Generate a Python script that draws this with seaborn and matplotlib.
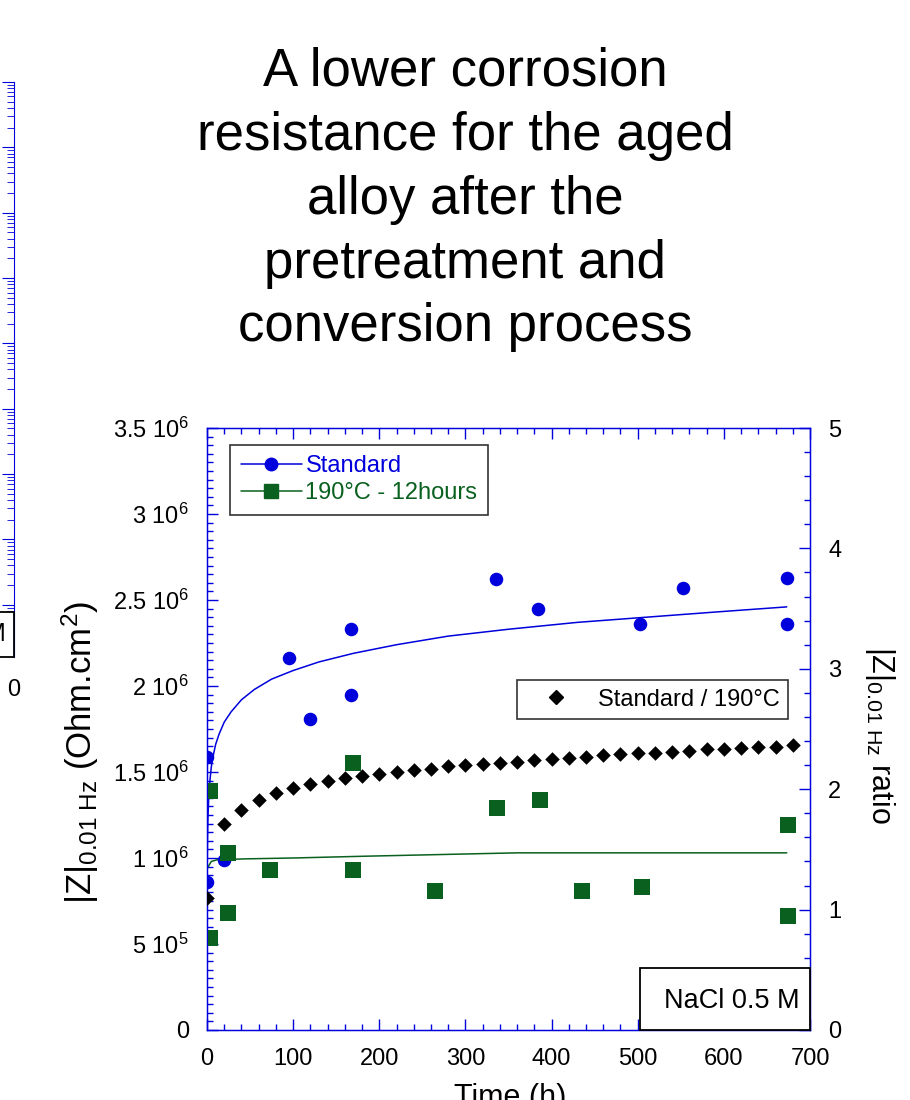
import matplotlib
matplotlib.use("Agg")
import numpy as np
import pandas as pd
import matplotlib.pyplot as plt
import seaborn as sns
from matplotlib.lines import Line2D
from matplotlib.patches import Rectangle
from matplotlib.ticker import MultipleLocator, FixedLocator, FixedFormatter, LogLocator, NullFormatter

# |Z| at 0.01 Hz (Ohm.cm2) vs immersion time (h) - standard alloy
std_time = [0, 0, 20, 95, 120, 167, 167, 335, 384, 503, 552, 673, 673]
std_z = [1.59e6, 0.86e6, 0.99e6, 2.16e6, 1.81e6, 2.33e6, 1.95e6,
         2.62e6, 2.45e6, 2.36e6, 2.57e6, 2.63e6, 2.36e6]

# aged alloy (190 C - 12 hours)
aged_time = [3, 3, 24, 24, 73, 169, 169, 265, 337, 387, 435, 505, 674, 674]
aged_z = [1.39e6, 0.535e6, 1.03e6, 0.68e6, 0.93e6, 1.55e6, 0.93e6,
          0.81e6, 1.29e6, 1.34e6, 0.81e6, 0.83e6, 1.19e6, 0.66e6]

# trend lines
std_fit_time = [0.3, 0.6, 1, 2, 3, 5, 7, 10, 14, 20, 28, 40, 55, 75, 100, 130, 170,
                220, 280, 350, 430, 510, 590, 673]
std_fit_z = [0.99e6, 1.12e6, 1.22e6, 1.35e6, 1.43e6, 1.53e6, 1.59e6, 1.66e6, 1.72e6,
             1.79e6, 1.85e6, 1.92e6, 1.98e6, 2.04e6, 2.09e6, 2.14e6, 2.19e6, 2.24e6,
             2.29e6, 2.33e6, 2.37e6, 2.40e6, 2.43e6, 2.46e6]
aged_fit_time = [0.3, 5, 12, 45, 100, 180, 360, 673]
aged_fit_z = [0.94e6, 0.98e6, 0.99e6, 0.995e6, 1.0e6, 1.01e6, 1.03e6, 1.03e6]

# ratio standard / 190 C (right axis)
ratio_time = [0, 20, 40, 60, 80, 100, 120, 140, 160, 180, 200, 220, 240, 260, 280,
              300, 320, 340, 360, 380, 400, 420, 440, 460, 480, 500, 520, 540,
              560, 580, 600, 620, 640, 660, 680]
ratio = [1.10, 1.71, 1.83, 1.91, 1.97, 2.01, 2.04, 2.07, 2.09, 2.11, 2.13, 2.14,
         2.16, 2.17, 2.19, 2.20, 2.21, 2.22, 2.23, 2.24, 2.25, 2.26, 2.27, 2.28,
         2.29, 2.30, 2.30, 2.31, 2.32, 2.33, 2.33, 2.34, 2.35, 2.35, 2.37]

yticks = [0, 0.5e6, 1e6, 1.5e6, 2e6, 2.5e6, 3e6, 3.5e6]
ytick_labels = ["0", "5 10$^{5}$", "1 10$^{6}$", "1.5 10$^{6}$", "2 10$^{6}$",
                "2.5 10$^{6}$", "3 10$^{6}$", "3.5 10$^{6}$"]

title = "A lower corrosion\nresistance for the aged\nalloy after the\npretreatment and\nconversion process"

BLUE = "#0000DD"
GREEN = "#0A601E"
W, H = 910, 1100

sns.set_style("ticks")
plt.rcParams["font.family"] = ["Liberation Sans", "DejaVu Sans"]
plt.rcParams["mathtext.fontset"] = "custom"
plt.rcParams["mathtext.rm"] = "Liberation Sans"
plt.rcParams["mathtext.it"] = "Liberation Sans"
plt.rcParams["mathtext.default"] = "regular"
plt.rcParams["text.color"] = "black"
plt.rcParams["xtick.labelcolor"] = "black"
plt.rcParams["ytick.labelcolor"] = "black"

std_df = pd.DataFrame({"time": std_time, "z": std_z})
aged_df = pd.DataFrame({"time": aged_time, "z": aged_z})
std_fit = pd.DataFrame({"time": std_fit_time, "z": std_fit_z})
aged_fit = pd.DataFrame({"time": aged_fit_time, "z": aged_fit_z})
ratio_df = pd.DataFrame({"time": ratio_time, "ratio": ratio})

fig = plt.figure(figsize=(W / 100, H / 100), dpi=100)

# title of the slide
fig.text(465 / W, 1 - 47 / H, title, ha="center", va="top", fontsize=38,
         linespacing=1.355, color="black")

# cut-off chart from the previous panel on the left edge
axl = fig.add_axes([(14 - 200) / W, (H - 657) / H, 200 / W, (657 - 82) / H])
axl.set_yscale("log")
axl.set_ylim(10 ** -4.8, 1e4)
axl.patch.set_visible(False)
for s in ["left", "top", "bottom"]:
    axl.spines[s].set_visible(False)
axl.spines["right"].set_color(BLUE)
axl.yaxis.tick_right()
axl.yaxis.set_major_locator(LogLocator(base=10, numticks=30))
axl.yaxis.set_minor_locator(LogLocator(base=10, subs=np.arange(2, 10), numticks=30))
axl.yaxis.set_major_formatter(NullFormatter())
axl.yaxis.set_minor_formatter(NullFormatter())
axl.set_xticks([])
axl.tick_params(axis="y", which="both", direction="in", color=BLUE, labelright=False)
axl.tick_params(axis="y", which="major", length=9)
axl.tick_params(axis="y", which="minor", length=5)
fig.add_artist(Rectangle((-20 / W, 1 - 657 / H), 34 / W, 45 / H, transform=fig.transFigure,
                         facecolor="white", edgecolor="black", lw=1.3))
fig.text(6 / W, 1 - 634 / H, "M", ha="right", va="center", fontsize=18)
fig.text(14 / W, 1 - 690 / H, "0", ha="center", va="center", fontsize=17)

# main chart
ax = fig.add_axes([207 / W, 70 / H, 603 / W, 602 / H])
sns.lineplot(data=std_fit, x="time", y="z", ax=ax, color=BLUE, lw=1.1, estimator=None, sort=False)
sns.lineplot(data=aged_fit, x="time", y="z", ax=ax, color=GREEN, lw=1.1, estimator=None, sort=False)
sns.scatterplot(data=std_df, x="time", y="z", ax=ax, color=BLUE, marker="o", s=95,
                linewidth=0, zorder=3)
sns.scatterplot(data=aged_df, x="time", y="z", ax=ax, color=GREEN, marker="s", s=120,
                linewidth=0, zorder=3)

ax.set_xlim(0, 700)
ax.set_ylim(0, 3.5e6)
ax.xaxis.set_major_locator(MultipleLocator(100))
ax.xaxis.set_minor_locator(MultipleLocator(20))
ax.yaxis.set_major_locator(FixedLocator(yticks))
ax.yaxis.set_major_formatter(FixedFormatter(ytick_labels))
ax.yaxis.set_minor_locator(MultipleLocator(0.05e6))
ax.tick_params(axis="both", which="both", direction="in", color=BLUE, top=True, right=False,
               labelsize=17, width=1, labelcolor="black")
ax.tick_params(axis="both", which="major", length=8)
ax.tick_params(axis="both", which="minor", length=4.5)
ax.tick_params(axis="x", which="major", pad=13)
ax.tick_params(axis="y", which="major", pad=13)
for s in ax.spines.values():
    s.set_color(BLUE)
    s.set_linewidth(1)
ax.set_xlabel("")
ax.set_ylabel("")

handles = [
    Line2D([], [], color=BLUE, lw=1.1, marker="o", markersize=9),
    Line2D([], [], color=GREEN, lw=1.1, marker="s", markersize=10),
]
leg = ax.legend(handles, ["Standard", "190°C - 12hours"], loc="upper left",
                bbox_to_anchor=(0.038, 0.972), borderaxespad=0, frameon=True,
                fancybox=False, edgecolor="black", handlelength=2.6, handletextpad=0.15,
                labelspacing=0.2, borderpad=0.45, prop={"size": 17})
leg.get_frame().set_linewidth(1.2)
for txt, c in zip(leg.get_texts(), [BLUE, GREEN]):
    txt.set_color(c)

# ratio on the right axis
ax2 = ax.twinx()
sns.scatterplot(data=ratio_df, x="time", y="ratio", ax=ax2, color="black", marker="D", s=55,
                linewidth=0, zorder=4)
ax2.set_ylim(0, 5)
ax2.set_xlim(0, 700)
ax2.yaxis.set_major_locator(MultipleLocator(1))
ax2.yaxis.set_minor_locator(MultipleLocator(0.2))
ax2.tick_params(axis="y", which="both", direction="in", color=BLUE, labelsize=17, pad=13,
                width=1, labelcolor="black")
ax2.tick_params(axis="y", which="major", length=8)
ax2.tick_params(axis="y", which="minor", length=4.5)
for s in ax2.spines.values():
    s.set_color(BLUE)
ax2.set_ylabel("")
ax2.set_xlabel("")

leg2 = ax2.legend([Line2D([], [], color="black", lw=0, marker="D", markersize=7)],
                  ["Standard / 190°C"], loc="upper left", bbox_to_anchor=(0.514, 0.581),
                  borderaxespad=0, frameon=True, fancybox=False, edgecolor="black",
                  handlelength=2.6, handletextpad=0.5, borderpad=0.35, prop={"size": 17})
leg2.get_frame().set_linewidth(1.2)
leg2.get_texts()[0].set_color("black")

ax2.add_patch(Rectangle((0.718, 0), 0.282, 0.103, transform=ax2.transAxes,
                        facecolor="white", edgecolor="black", lw=1.3, zorder=5, clip_on=False))
ax2.text(0.87, 0.048, "NaCl 0.5 M", transform=ax2.transAxes, ha="center", va="center",
         fontsize=19.5, zorder=6, color="black")

# axis titles
fig.text(80 / W, 1 - 752 / H, r"$|Z|_{0.01\ Hz}$ (Ohm.cm$^{2}$)", rotation=90,
         ha="center", va="center", fontsize=25)
fig.text(880 / W, 1 - 735 / H, r"$|Z|_{0.01\ Hz}$ ratio", rotation=270,
         ha="center", va="center", fontsize=22)
fig.text(510 / W, 1 - 1083 / H, "Time (h)", ha="center", va="top", fontsize=22)

fig.savefig("out.png", dpi=100)
